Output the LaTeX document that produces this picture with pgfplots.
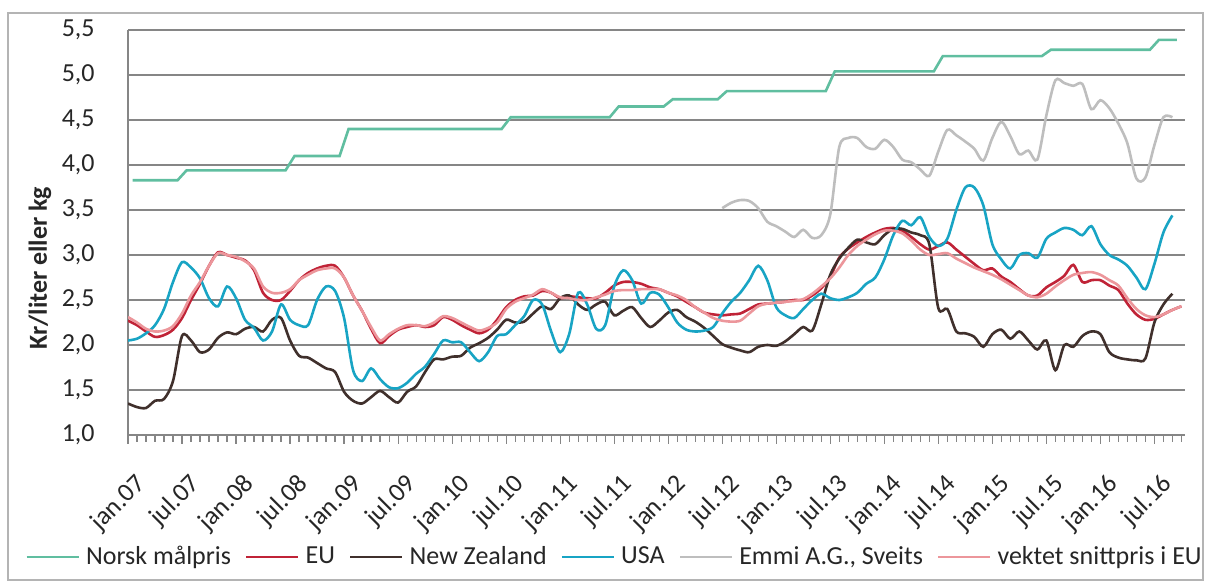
\documentclass[border=0pt]{standalone}
\usepackage{fontspec}
\setmainfont{Carlito}
\usepackage{pgfplots}
\usepackage{pgfplotstable}
\pgfplotsset{compat=1.18}

\definecolor{malgreen}{RGB}{96,190,160}
\definecolor{eured}{RGB}{192,35,55}
\definecolor{nzbrown}{RGB}{64,48,44}
\definecolor{usablue}{RGB}{24,164,196}
\definecolor{emmigrey}{RGB}{190,190,190}
\definecolor{vektpink}{RGB}{236,150,155}
\definecolor{gridgrey}{RGB}{134,134,134}
\definecolor{framegrey}{RGB}{180,180,180}
\definecolor{txt}{RGB}{38,38,38}

% m = month index from jan.07, xg = position of the target price point
\pgfplotstableread{
m xg mal eu nz usa emmi vekt
0 0.5 3.83 2.27 1.35 2.05 nan 2.31
1 1.5 3.83 2.22 1.31 2.07 nan 2.25
2 2.5 3.83 2.15 1.30 2.13 nan 2.18
3 3.5 3.83 2.09 1.38 2.22 nan 2.15
4 4.5 3.83 2.11 1.40 2.40 nan 2.16
5 5.5 3.83 2.17 1.60 2.70 nan 2.21
6 6.5 3.94 2.30 2.10 2.92 nan 2.35
7 7.5 3.94 2.50 2.05 2.86 nan 2.55
8 8.5 3.94 2.68 1.92 2.74 nan 2.70
9 9.5 3.94 2.88 1.95 2.52 nan 2.88
10 10.5 3.94 3.03 2.08 2.43 nan 3.02
11 11.5 3.94 3.00 2.14 2.65 nan 3.00
12 12.5 3.94 2.97 2.12 2.52 nan 2.98
13 13.5 3.94 2.94 2.18 2.28 nan 2.93
14 14.5 3.94 2.83 2.20 2.19 nan 2.85
15 15.5 3.94 2.58 2.15 2.05 nan 2.65
16 16.5 3.94 2.50 2.28 2.15 nan 2.58
17 17.5 3.94 2.50 2.30 2.45 nan 2.58
18 18.5 4.10 2.60 2.05 2.28 nan 2.62
19 19.5 4.10 2.72 1.88 2.22 nan 2.72
20 20.5 4.10 2.80 1.86 2.22 nan 2.78
21 21.5 4.10 2.85 1.80 2.50 nan 2.83
22 22.5 4.10 2.88 1.74 2.65 nan 2.85
23 23.5 4.10 2.88 1.70 2.60 nan 2.85
24 24.5 4.40 2.75 1.48 2.30 nan 2.75
25 25.5 4.40 2.55 1.38 1.72 nan 2.55
26 26.5 4.40 2.38 1.35 1.60 nan 2.38
27 27.5 4.40 2.18 1.42 1.74 nan 2.20
28 28.5 4.40 2.02 1.49 1.62 nan 2.05
29 29.5 4.40 2.10 1.42 1.53 nan 2.12
30 30.5 4.40 2.17 1.36 1.52 nan 2.18
31 31.5 4.40 2.20 1.48 1.58 nan 2.22
32 32.5 4.40 2.22 1.54 1.68 nan 2.22
33 33.5 4.40 2.20 1.70 1.76 nan 2.21
34 34.5 4.40 2.22 1.84 1.90 nan 2.25
35 35.5 4.40 2.31 1.84 2.05 nan 2.32
36 36.5 4.40 2.28 1.87 2.03 nan 2.30
37 37.5 4.40 2.22 1.88 2.03 nan 2.25
38 38.5 4.40 2.17 1.97 1.92 nan 2.20
39 39.5 4.40 2.13 2.02 1.82 nan 2.16
40 40.5 4.40 2.17 2.08 1.92 nan 2.19
41 41.5 4.40 2.28 2.17 2.10 nan 2.25
42 42.5 4.53 2.42 2.28 2.12 nan 2.40
43 43.5 4.53 2.50 2.25 2.22 nan 2.48
44 44.5 4.53 2.54 2.26 2.32 nan 2.52
45 45.5 4.53 2.55 2.35 2.50 nan 2.56
46 46.5 4.53 2.60 2.43 2.45 nan 2.62
47 47.5 4.53 2.58 2.40 2.15 nan 2.58
48 48.5 4.53 2.52 2.52 1.92 nan 2.53
49 49.5 4.53 2.54 2.55 2.12 nan 2.52
50 50.5 4.53 2.53 2.45 2.58 nan 2.50
51 51.5 4.53 2.52 2.39 2.45 nan 2.50
52 52.5 4.53 2.52 2.45 2.18 nan 2.53
53 53.5 4.53 2.58 2.48 2.22 nan 2.56
54 54.5 4.65 2.66 2.33 2.65 nan 2.60
55 55.5 4.65 2.70 2.38 2.83 nan 2.61
56 56.5 4.65 2.70 2.42 2.72 nan 2.61
57 57.5 4.65 2.68 2.30 2.46 nan 2.62
58 58.5 4.65 2.64 2.20 2.58 nan 2.62
59 59.5 4.65 2.62 2.27 2.56 nan 2.62
60 60.5 4.73 2.58 2.36 2.42 nan 2.58
61 61.5 4.73 2.54 2.39 2.25 nan 2.55
62 62.5 4.73 2.48 2.31 2.17 nan 2.50
63 63.5 4.73 2.42 2.26 2.15 nan 2.42
64 64.5 4.73 2.36 2.19 2.16 nan 2.36
65 65.5 4.73 2.34 2.10 2.20 nan 2.30
66 66.5 4.82 2.33 2.01 2.35 3.52 2.27
67 67.5 4.82 2.34 1.97 2.48 3.58 2.26
68 68.5 4.82 2.35 1.94 2.58 3.61 2.27
69 69.5 4.82 2.40 1.92 2.72 3.60 2.35
70 70.5 4.82 2.45 1.98 2.88 3.52 2.43
71 71.5 4.82 2.46 2.00 2.72 3.37 2.46
72 72.5 4.82 2.47 1.99 2.42 3.32 2.47
73 73.5 4.82 2.48 2.04 2.33 3.26 2.48
74 74.5 4.82 2.50 2.12 2.30 3.20 2.49
75 75.5 4.82 2.50 2.20 2.40 3.28 2.51
76 76.5 4.82 2.55 2.16 2.50 3.19 2.57
77 77.5 4.82 2.63 2.45 2.57 3.22 2.65
78 78.5 5.04 2.76 2.78 2.52 3.45 2.74
79 79.5 5.04 2.97 2.96 2.50 4.20 2.86
80 80.5 5.04 3.07 3.08 2.53 4.30 3.00
81 81.5 5.04 3.14 3.17 2.58 4.30 3.10
82 82.5 5.04 3.20 3.14 2.68 4.20 3.17
83 83.5 5.04 3.25 3.12 2.75 4.18 3.23
84 84.5 5.04 3.29 3.22 2.95 4.28 3.27
85 85.5 5.04 3.30 3.29 3.22 4.20 3.27
86 86.5 5.04 3.27 3.29 3.38 4.06 3.24
87 87.5 5.04 3.20 3.25 3.33 4.03 3.16
88 88.5 5.04 3.12 3.22 3.42 3.95 3.06
89 89.5 5.04 3.06 3.12 3.20 3.88 3.00
90 90.5 5.21 3.10 2.41 3.10 4.15 3.01
91 91.5 5.21 3.14 2.40 3.18 4.39 3.02
92 92.5 5.21 3.06 2.15 3.50 4.33 2.96
93 93.5 5.21 2.98 2.13 3.75 4.26 2.91
94 94.5 5.21 2.90 2.09 3.75 4.18 2.86
95 95.5 5.21 2.83 1.98 3.55 4.05 2.82
96 96.5 5.21 2.85 2.12 3.12 4.30 2.78
97 97.5 5.21 2.76 2.17 2.95 4.48 2.73
98 98.5 5.21 2.70 2.07 2.85 4.32 2.67
99 99.5 5.21 2.62 2.15 3.00 4.12 2.61
100 100.5 5.21 2.55 2.05 3.02 4.16 2.55
101 101.5 5.21 2.55 1.95 2.97 4.06 2.53
102 102.5 5.28 2.64 2.05 3.18 4.55 2.57
103 103.5 5.28 2.70 1.72 3.25 4.94 2.65
104 104.5 5.28 2.77 2.00 3.30 4.91 2.72
105 105.5 5.28 2.89 1.98 3.28 4.88 2.78
106 106.5 5.28 2.70 2.10 3.22 4.90 2.80
107 107.5 5.28 2.72 2.15 3.32 4.62 2.81
108 108.5 5.28 2.72 2.12 3.12 4.72 2.78
109 109.5 5.28 2.66 1.92 3.00 4.63 2.72
110 110.5 5.28 2.61 1.86 2.95 4.46 2.66
111 111.5 5.28 2.46 1.84 2.88 4.24 2.52
112 112.5 5.28 2.34 1.83 2.75 3.85 2.40
113 113.5 5.28 2.28 1.85 2.62 3.86 2.33
114 114.5 5.39 2.29 2.25 2.90 4.22 2.31
115 115.5 5.39 2.34 2.45 3.25 4.53 2.34
116 116.5 5.39 2.39 2.57 3.44 4.53 2.39
117 117.5 nan 2.43 nan nan nan 2.43
}\prisdata

\begin{document}
\begin{tikzpicture}[font=\fontsize{13}{15}\selectfont, text=txt]
\useasboundingbox (-64pt,-73pt) rectangle (538.5pt,217.5pt);
\draw[framegrey, line width=0.6pt] (-60pt,-72.5pt) rectangle (537.5pt,211pt);
\begin{axis}[
  at={(0,0)}, anchor=south west,
  scale only axis,
  width=528.5pt, height=202.5pt,
  xmin=0, xmax=117.4,
  ymin=1, ymax=5.5,
  axis lines*=left,
  axis line style={draw=gridgrey, line width=0.6pt},
  ymajorgrids,
  grid style={draw=gridgrey, line width=0.6pt},
  ytick={1,1.5,2,2.5,3,3.5,4,4.5,5,5.5},
  ytick style={draw=none},
  yticklabel style={anchor=east, inner sep=0pt, xshift=-12pt},
  /pgf/number format/.cd, use comma, fixed, fixed zerofill, precision=1, assume math mode=true,
  /pgfplots/.cd,
  xtick={0,6,...,114},
  xticklabels={jan.07,jul.07,jan.08,jul.08,jan.09,jul.09,jan.10,jul.10,jan.11,jul.11,
    jan.12,jul.12,jan.13,jul.13,jan.14,jul.14,jan.15,jul.15,jan.16,jul.16},
  minor xtick={0,1,...,117},
  tick align=outside,
  xtick style={draw=gridgrey, line width=0.6pt},
  minor tick style={draw=gridgrey, line width=0.6pt},
  major tick length=4.5pt,
  minor tick length=3.5pt,
  xticklabel style={xshift=3pt, yshift=-14pt, rotate=45, anchor=north east, inner sep=0pt},
  ylabel={\textbf{Kr/liter eller kg}},
  ylabel style={at={(axis description cs:-0.0833,0.412)}, anchor=center},
  legend columns=-1,
  legend style={at={(axis description cs:-0.0974,-0.301)}, anchor=west,
    draw=none, fill=none, inner sep=0pt,
    nodes={inner sep=1pt, text=txt},
    /tikz/every odd column/.append style={column sep=2pt},
    /tikz/every even column/.append style={column sep=6pt}},
  legend image code/.code={\draw[#1] (0pt,0pt) -- (26pt,0pt);},
  every axis plot/.append style={line width=1.3pt},
]
\addplot[malgreen] table[x=xg, y=mal] {\prisdata};
\addlegendentry{Norsk målpris}
\addplot[eured, smooth] table[x=m, y=eu] {\prisdata};
\addlegendentry{EU}
\addplot[nzbrown, smooth] table[x=m, y=nz] {\prisdata};
\addlegendentry{New Zealand}
\addplot[usablue, smooth] table[x=m, y=usa] {\prisdata};
\addlegendentry{USA}
\addplot[emmigrey, smooth] table[x=m, y=emmi] {\prisdata};
\addlegendentry{Emmi A.G., Sveits}
\addplot[vektpink, smooth] table[x=m, y=vekt] {\prisdata};
\addlegendentry{vektet snittpris i EU}
\end{axis}
\end{tikzpicture}
\end{document}
